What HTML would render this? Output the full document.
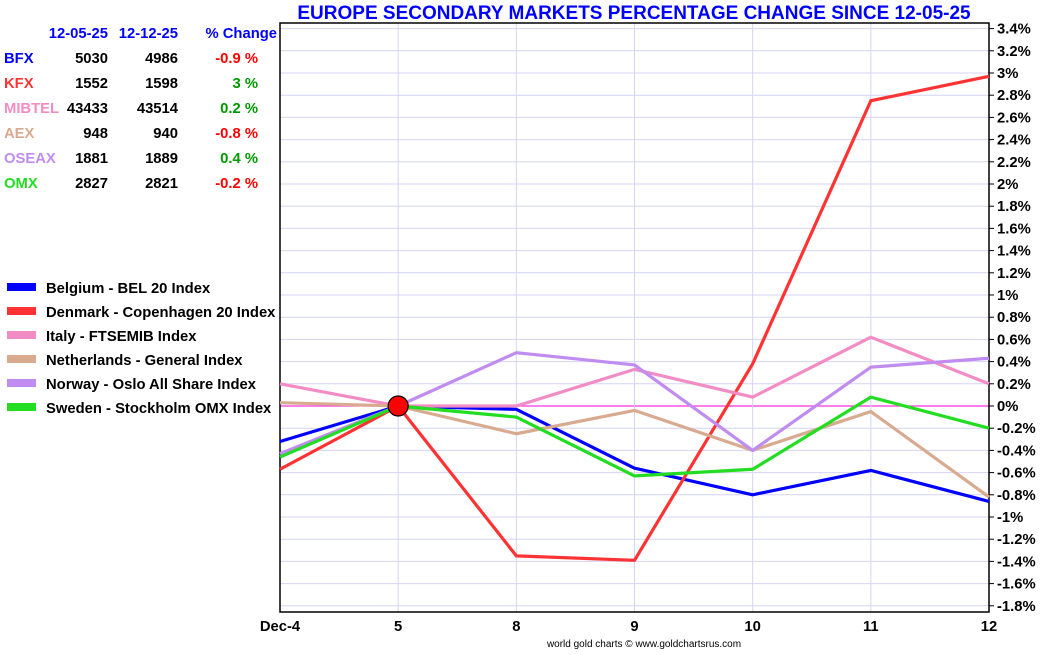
<!DOCTYPE html>
<html><head><meta charset="utf-8"><style>
body{margin:0;background:#fff;font-family:"Liberation Sans",sans-serif;}
svg text{font-family:"Liberation Sans",sans-serif;font-weight:bold;}
</style></head><body>
<svg id="c" width="1050" height="650" xmlns="http://www.w3.org/2000/svg"></svg>
<script>
const categories=["Dec-4","5","8","9","10","11","12"];
const bfx=[-0.32,0,-0.03,-0.56,-0.80,-0.58,-0.86];
const kfx=[-0.57,0,-1.35,-1.39,0.38,2.75,2.97];
const mibtel=[0.20,0,0,0.33,0.08,0.62,0.20];
const aex=[0.03,0,-0.25,-0.04,-0.40,-0.05,-0.82];
const oseax=[-0.43,0,0.48,0.37,-0.40,0.35,0.43];
const omx=[-0.46,0,-0.10,-0.63,-0.57,0.08,-0.20];
const yTicks=[3.4,3.2,3,2.8,2.6,2.4,2.2,2,1.8,1.6,1.4,1.2,1,0.8,0.6,0.4,0.2,0,-0.2,-0.4,-0.6,-0.8,-1,-1.2,-1.4,-1.6,-1.8];
const tableRows=[["BFX","5030","4986","-0.9 %"],["KFX","1552","1598","3 %"],["MIBTEL","43433","43514","0.2 %"],["AEX","948","940","-0.8 %"],["OSEAX","1881","1889","0.4 %"],["OMX","2827","2821","-0.2 %"]];
const legendLabels=["Belgium - BEL 20 Index","Denmark - Copenhagen 20 Index","Italy - FTSEMIB Index","Netherlands - General Index","Norway -  Oslo All Share Index","Sweden -  Stockholm OMX Index"];
const series=[bfx,kfx,mibtel,aex,oseax,omx];
const colors=["#0000ff","#ff3333","#f28cc4","#d8aa90","#c08cf0","#22dd22"];
const X0=280,X1=989;
const x=i=>X0+i*(X1-X0)/(categories.length-1);
const y=v=>406-v*111;
const svg=document.getElementById('c');
const NS="http://www.w3.org/2000/svg";
function mk(t,a,p){const e=document.createElementNS(NS,t);for(const k in a)e.setAttribute(k,a[k]);(p||svg).appendChild(e);return e;}
function tx(s,a){const e=mk('text',a);e.textContent=s;return e;}
yTicks.forEach(v=>{
 const g=mk('line',{x1:X0,x2:X1,y1:y(v),y2:y(v),stroke:v===0?'#ff33dd':'#d4d4f4','stroke-width':v===0?1.2:1});
 
 
 const tk=mk('line',{x1:X1,x2:X1+5,y1:y(v),y2:y(v),stroke:'#000'});
 
 
 const l=tx(v+'%',{x:X1+8,y:y(v)+5,'font-size':14.8,fill:'#000'});
 
 
});
categories.forEach((c,i)=>{
 const g=mk('line',{x1:x(i),x2:x(i),y1:23,y2:612,stroke:'#d4d4f4'});
 
 
 const l=tx(c,{x:x(i),y:631,'font-size':14.8,'text-anchor':'middle',fill:'#000'});
 
 
});
const bx=mk('rect',{x:X0,y:23,width:X1-X0,height:589,fill:'none',stroke:'#000','stroke-width':1.5});


series.forEach((s,k)=>{
 const p=mk('polyline',{points:s.map((v,i)=>x(i)+','+y(v)).join(' '),fill:'none',stroke:colors[k],'stroke-width':3.2,'stroke-linejoin':'round'});
 
 
});
const dot=mk('circle',{cx:x(1),cy:y(0),r:10,fill:'#ff0000',stroke:'#000','stroke-width':1.2});


const t=tx('EUROPE SECONDARY MARKETS PERCENTAGE CHANGE SINCE 12-05-25',{x:634,y:19,'font-size':19,'text-anchor':'middle',fill:'#0000ff'});


[["12-05-25",108],["12-12-25",178],["% Change",277]].forEach(h=>{
 const e=tx(h[0],{x:h[1],y:38,'font-size':14.8,'text-anchor':'end',fill:'#0000ff'});
 
 
});
tableRows.forEach((r,k)=>{
 const yy=63+k*25;
 const a=tx(r[0],{x:4,y:yy,'font-size':14.8,fill:colors[k]});
 
 
 const b=tx(r[1],{x:108,y:yy,'font-size':14.8,'text-anchor':'end',fill:'#000'});
 
 
 const c=tx(r[2],{x:178,y:yy,'font-size':14.8,'text-anchor':'end',fill:'#000'});
 
 
 const d=tx(r[3],{x:258,y:yy,'font-size':14.8,'text-anchor':'end',fill:r[3][0]==='-'?'#ff0000':'#009900'});
 
 
});
legendLabels.forEach((s,k)=>{
 const yy=288+k*24;
 const r=mk('rect',{x:7,y:yy-5,width:29,height:8,fill:colors[k]});
 
 
 const l=tx(s,{x:46,y:yy+5,'font-size':14.8,fill:'#000'});
 
 
});
const cr=tx('world gold charts © www.goldchartsrus.com',{x:644,y:647,'font-size':10,'text-anchor':'middle',fill:'#000'});


cr.style.fontWeight='normal';
</script>
</body></html>
